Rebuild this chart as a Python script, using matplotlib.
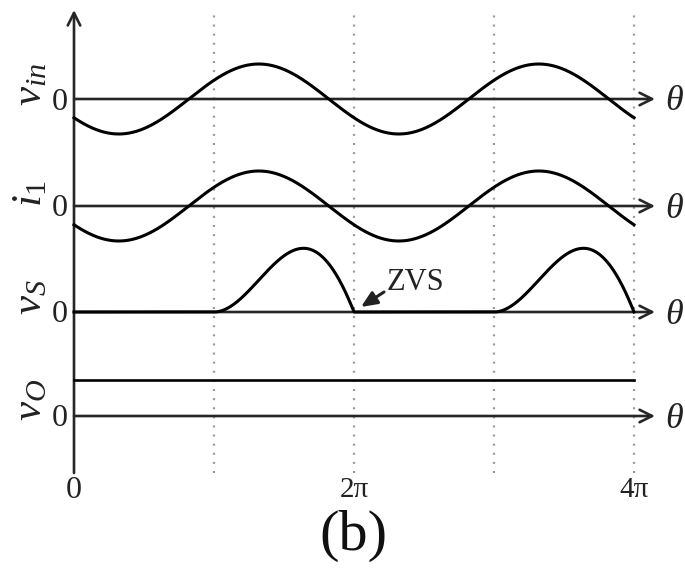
import numpy as np
import matplotlib.pyplot as plt
from matplotlib.patches import FancyArrowPatch

plt.rcParams['font.family'] = 'Liberation Serif'
plt.rcParams['mathtext.fontset'] = 'custom'
plt.rcParams['mathtext.rm'] = 'Liberation Serif'
plt.rcParams['mathtext.it'] = 'Liberation Serif:italic'

# signals, top to bottom
signal_labels = [r'$v_{in}$', r'$i_1$', r'$v_S$', r'$v_O$']
vin_amp = 1.0          # normalised amplitude
i1_amp = 1.0
sine_phase = 0.82      # rising zero crossing, in units of pi
vs_peak = 1.82         # switch voltage peak
vo_level = 1.03        # dc output
n_periods = 2

tick_pos = [0, 2, 4]   # in units of pi
tick_labels = ['0', '2π', '4π']
edge_pos = [1, 2, 3, 4]  # switching instants, units of pi

# layout (pixel-like units, y upward)
W, H = 685, 568
x0_px, px_per_pi = 74, 140
baselines = [469, 362, 256, 152]
scale = 35

def tx(px):
    return (px - x0_px) / px_per_pi * np.pi

theta = np.linspace(0, n_periods * 2 * np.pi, 2000)

vin = vin_amp * np.sin(theta - sine_phase * np.pi)
i1 = i1_amp * np.sin(theta - sine_phase * np.pi)

# class-E like switch voltage, off during second half of each period
u = np.mod(theta, 2 * np.pi)
t = 3 * np.pi - u
g = (t - 1.5 * np.pi) - (np.pi / 2) * np.cos(t) - np.sin(t)
tt = np.linspace(np.pi, 2 * np.pi, 2000)
gmax = np.max((tt - 1.5 * np.pi) - (np.pi / 2) * np.cos(tt) - np.sin(tt))
vs = np.where(u >= np.pi, g / gmax * vs_peak, 0.0)
vs = np.clip(vs, 0, None)

fig = plt.figure(figsize=(W / 100, H / 100), dpi=100)
ax = fig.add_axes([0, 0, 1, 1])
ax.set_xlim(tx(0), tx(W))
ax.set_ylim(0, H)
ax.axis('off')

axis_col = '#262626'
txt_col = '#222222'

# dotted switching lines
for e in edge_pos:
    ax.plot([e * np.pi, e * np.pi], [H - 473, H - 10], color='#9a9a9a',
            lw=1.6, linestyle=(0, (0.9, 3.2)), zorder=1)

# vertical axis
ax.add_patch(FancyArrowPatch((0, H - 473), (0, H - 10),
                             arrowstyle='->,head_length=0.9,head_width=0.45',
                             mutation_scale=10, lw=1.9, color=axis_col,
                             shrinkA=0, shrinkB=0, zorder=3))

# horizontal axes with theta labels
for b in baselines:
    ax.add_patch(FancyArrowPatch((0, b), (tx(655), b),
                                 arrowstyle='->,head_length=0.9,head_width=0.45',
                                 mutation_scale=10, lw=1.9, color=axis_col,
                                 shrinkA=0, shrinkB=0, zorder=3))
    ax.text(tx(674), b - 3, r'$\theta$', fontsize=26, ha='center',
            va='center', color=txt_col)
    ax.text(tx(60), b - 3, '0', fontsize=23, ha='center', va='center',
            color=txt_col)

label_y = [484, 375, 271, 168]
for ly, lab in zip(label_y, signal_labels):
    ax.text(tx(31), ly, lab, fontsize=31, rotation=90, ha='center',
            va='center', color=txt_col)

# waveforms
ax.plot(theta, baselines[0] + scale * vin, color='black', lw=2.2, zorder=4)
ax.plot(theta, baselines[1] + scale * i1, color='black', lw=2.2, zorder=4)
ax.plot(theta, baselines[2] + scale * vs, color='black', lw=2.2, zorder=4)
ax.plot([0, n_periods * 2 * np.pi], [baselines[3] + scale * vo_level] * 2,
        color='black', lw=1.9, zorder=4)

# ZVS marker
ax.text(tx(415), H - 283, 'ZVS', fontsize=22, ha='center', va='center',
        color=txt_col)
ax.annotate('', xy=(tx(361), H - 307), xytext=(tx(384), H - 292),
            arrowprops=dict(arrowstyle='-|>,head_length=0.8,head_width=0.35',
                            mutation_scale=12, lw=2.2, color=txt_col,
                            shrinkA=0, shrinkB=0))

# theta ticks
for p, lab in zip(tick_pos, tick_labels):
    ax.text(p * np.pi, H - 490, lab, fontsize=23 if p == 0 else 21,
            ha='center', va='center', color=txt_col)

ax.text(tx(353), H - 536, '(b)', fontsize=42, ha='center', va='center',
        color='#111111')

fig.savefig('out.png', dpi=100)
